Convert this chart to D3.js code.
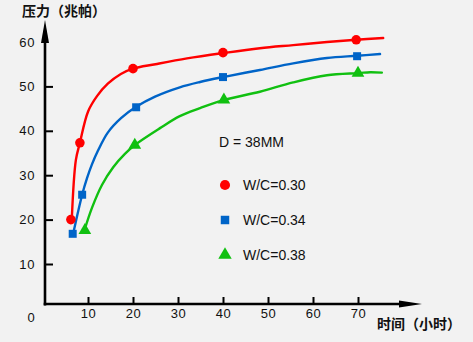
<!DOCTYPE html>
<html>
<head>
<meta charset="utf-8">
<script src="https://cdn.jsdelivr.net/npm/d3@7"></script>
<style>
  html, body { margin: 0; padding: 0; background: #f2f2f2; }
  svg { display: block; }
  text { font-family: "Liberation Sans", Arial, sans-serif; fill: #111; }
  .cjk { font-family: "Noto Sans CJK SC", sans-serif; font-weight: bold; }
</style>
</head>
<body>
<svg id="chart" width="473" height="342"></svg>
<script>
// Strength development of concrete, D = 38MM
const xTicks = [10, 20, 30, 40, 50, 60, 70];
const yTicks = [10, 20, 30, 40, 50, 60];

// Curve traces [hours, MPa]
const curve030 = [[6.4,20.1],[7.3,33.4],[8.2,37.3],[10.0,44.3],[12.0,47.8],[14.4,50.6],[17.3,52.8],[20.0,54.0],[25,55.0],[32,56.3],[40,57.5],[48.2,58.6],[55.6,59.3],[63.1,60.0],[69.6,60.5],[75.6,60.9]];
const curve034 = [[6.7,16.8],[8.7,25.6],[9.8,29.4],[10.9,32.5],[12.2,35.5],[14.4,39.6],[17.4,42.9],[20.7,45.4],[24.9,47.7],[30.4,49.8],[34.9,51.0],[40,52.1],[48.2,53.7],[55.6,55.2],[63.1,56.4],[69.8,56.9],[74.9,57.3]];
const curve038 = [[9.3,17.9],[10.9,22.7],[13.1,27.8],[15.6,31.8],[18.2,34.8],[20.4,36.8],[26.0,40.6],[30.4,43.3],[34.9,45.1],[40,46.9],[48.2,48.8],[55.6,50.9],[63.1,52.5],[70.2,53.0],[72.7,53.2],[75.3,53.1]];

// Measured points
const points030 = [[6.2,20.0],[8.2,37.3],[20.0,54.0],[40,57.6],[69.6,60.5]];
const points034 = [[6.6,16.8],[8.7,25.6],[20.7,45.3],[40,52.1],[69.8,56.8]];
const points038 = [[9.3,17.6],[20.4,36.8],[40.2,47.0],[70.0,53.0]];

const seriesNames = ["W/C=0.30", "W/C=0.34", "W/C=0.38"];
const colors = ["#ff0000", "#0064c8", "#11c011"];
const symbols = [d3.symbolCircle, d3.symbolSquare, d3.symbolTriangle];
const symbolSizes = [72, 64, 70];

const series = [
  { name: seriesNames[0], curve: curve030, points: points030 },
  { name: seriesNames[1], curve: curve034, points: points034 },
  { name: seriesNames[2], curve: curve038, points: points038 }
];

const svg = d3.select("#chart");

const x = d3.scaleLinear().domain([0, 70]).range([43, 358]);
const y = d3.scaleLinear().domain([0, 60]).range([308.4, 42]);

const axisY0 = 304;  // baseline of the horizontal axis
const axisX0 = 45;   // position of the vertical axis

// Horizontal axis
const gx = svg.append("g").attr("transform", `translate(0,${axisY0})`)
  .call(d3.axisBottom(x).tickValues(xTicks).tickSizeInner(-7).tickSizeOuter(0).tickPadding(5));
gx.select(".domain").remove();
gx.selectAll(".tick line").attr("stroke", "#000").attr("stroke-width", 2);
gx.selectAll(".tick text").attr("font-size", 13).attr("letter-spacing", 0.6)
  .attr("font-family", "Liberation Sans, Arial, sans-serif").attr("fill", "#222");

// Vertical axis
const gy = svg.append("g").attr("transform", `translate(${axisX0},0)`)
  .call(d3.axisLeft(y).tickValues(yTicks).tickSizeInner(-8).tickSizeOuter(0).tickPadding(10));
gy.select(".domain").remove();
gy.selectAll(".tick line").attr("stroke", "#000").attr("stroke-width", 2)
  .filter(d => d === 60).remove();
gy.selectAll(".tick text").attr("font-size", 13).attr("letter-spacing", 0.6)
  .attr("font-family", "Liberation Sans, Arial, sans-serif").attr("fill", "#222");

// Axis lines with arrowheads
svg.append("path")
  .attr("d", `M${axisX0},${axisY0 + 1.5}V40`)
  .attr("stroke", "#000").attr("stroke-width", 2.6).attr("fill", "none");
svg.append("path")
  .attr("d", `M${axisX0},20L${axisX0 + 4},43L${axisX0 - 4},43Z`).attr("fill", "#000");
svg.append("path")
  .attr("d", `M${axisX0 - 1.3},${axisY0}H402`)
  .attr("stroke", "#000").attr("stroke-width", 2.6).attr("fill", "none");
svg.append("path")
  .attr("d", `M422,${axisY0}L399,${axisY0 - 3.5}L399,${axisY0 + 3.5}Z`).attr("fill", "#000");

// Origin label
svg.append("text").attr("x", axisX0 - 14).attr("y", axisY0 + 18)
  .attr("text-anchor", "middle").attr("font-size", 13).attr("fill", "#222").text("0");

// Axis titles
svg.append("text").attr("class", "cjk").attr("x", 22).attr("y", 16)
  .attr("font-size", 14).text("压力（兆帕）");
svg.append("text").attr("class", "cjk").attr("x", 377).attr("y", 329)
  .attr("font-size", 14).text("时间（小时）");

// Curves
const line = d3.line().x(d => x(d[0])).y(d => y(d[1])).curve(d3.curveCatmullRom.alpha(0.5));
series.forEach((s, i) => {
  svg.append("path").datum(s.curve)
    .attr("d", line)
    .attr("fill", "none").attr("stroke", colors[i]).attr("stroke-width", 2.4)
    .attr("stroke-linejoin", "round").attr("stroke-linecap", "round");
});

// Markers
series.forEach((s, i) => {
  svg.append("g").selectAll("path").data(s.points).join("path")
    .attr("transform", d => `translate(${x(d[0])},${y(d[1])})`)
    .attr("d", d3.symbol().type(symbols[i]).size(symbolSizes[i]))
    .attr("fill", colors[i]);
});

// Legend
const legend = svg.append("g").attr("transform", "translate(219,0)");
legend.append("text").attr("x", 0).attr("y", 147).attr("font-size", 14).attr("fill", "#111").text("D = 38MM");
const legendRows = [185, 220, 255];
series.forEach((s, i) => {
  legend.append("path")
    .attr("transform", `translate(6,${legendRows[i]})`)
    .attr("d", d3.symbol().type(symbols[i]).size(symbolSizes[i] + 8))
    .attr("fill", colors[i]);
  legend.append("text").attr("x", 24).attr("y", legendRows[i] + 5)
    .attr("font-size", 14).attr("fill", "#111").text(s.name);
});
</script>
</body>
</html>
